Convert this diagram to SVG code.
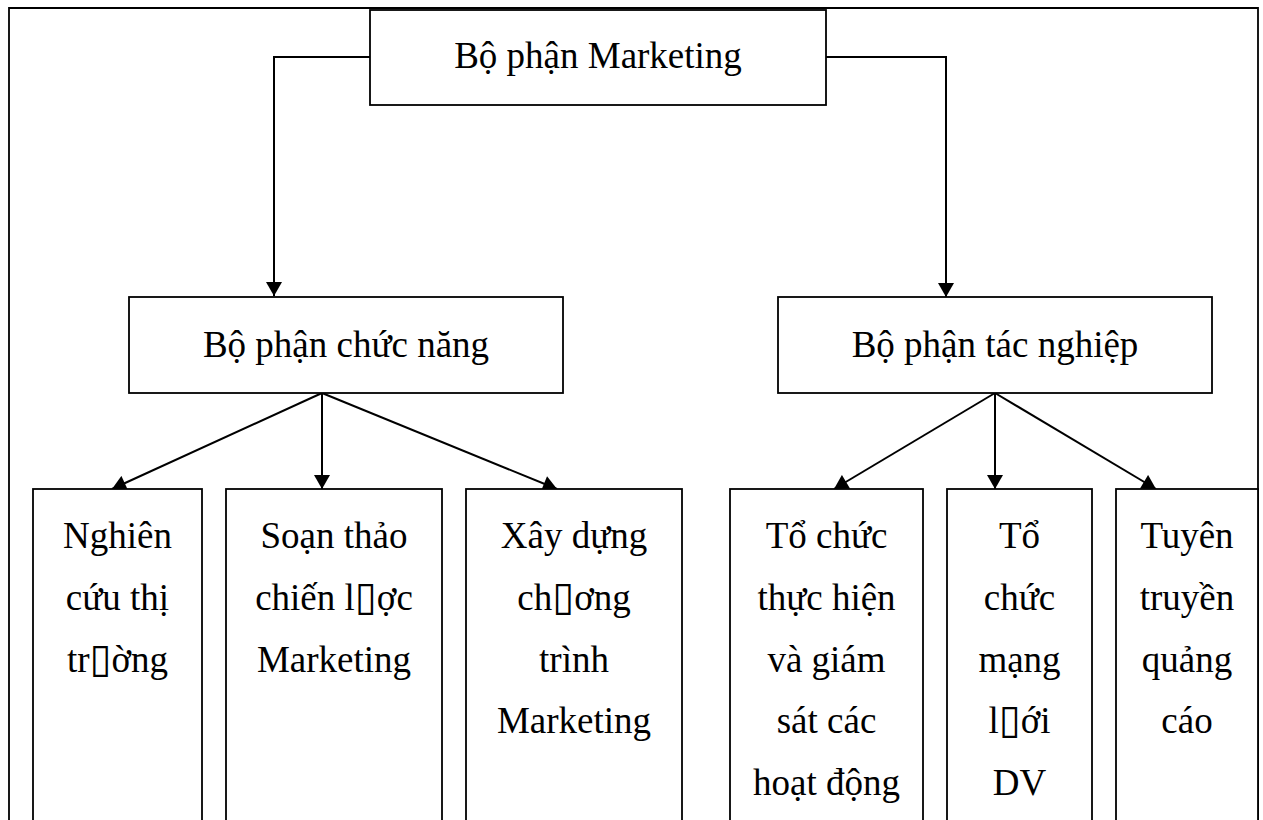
<svg xmlns="http://www.w3.org/2000/svg" width="1263" height="820" viewBox="0 0 1263 820">
  <style>
    .box { fill: #ffffff; stroke: #000000; stroke-width: 1.8; }
    .frame { fill: none; stroke: #000000; stroke-width: 1.8; }
    .link { fill: none; stroke: #000000; stroke-width: 2; }
    .lbl { font-family: "Liberation Serif", "Times New Roman", serif; font-size: 37px; fill: #000000; text-anchor: middle; }
    .tofu { font-family: "DejaVu Sans", sans-serif; font-size: 40px; }
  </style>
  <defs>
    <marker id="arrow" markerUnits="userSpaceOnUse" markerWidth="15" markerHeight="16" viewBox="0 0 14 16" refX="14" refY="8" orient="auto">
      <path d="M0,0 L14,8 L0,16 Z" fill="#000000"/>
    </marker>
  </defs>
  <rect width="1263" height="820" fill="#ffffff"/>

  <!-- outer frame (open at the bottom) -->
  <path class="frame" d="M9,830 V8 H1258 V830"/>

  <g id="connectors">
    <path class="link" d="M370,57 H274 V296" marker-end="url(#arrow)"/>
    <path class="link" d="M826,57 H946 V297" marker-end="url(#arrow)"/>
    <path class="link" d="M322,393 L112,489" marker-end="url(#arrow)"/>
    <path class="link" d="M322,393 V489" marker-end="url(#arrow)"/>
    <path class="link" d="M322,393 L557,489" marker-end="url(#arrow)"/>
    <path class="link" d="M995,393 L834,489" marker-end="url(#arrow)"/>
    <path class="link" d="M995,393 V489" marker-end="url(#arrow)"/>
    <path class="link" d="M995,393 L1156,489" marker-end="url(#arrow)"/>
  </g>

  <g id="marketing">
    <rect class="box" x="370" y="10" width="456" height="95"/>
    <text class="lbl" x="598" y="68">Bộ phận Marketing</text>
  </g>

  <g id="chuc-nang">
    <rect class="box" x="129" y="297" width="434" height="96"/>
    <text class="lbl" x="346" y="357">Bộ phận chức năng</text>
  </g>

  <g id="tac-nghiep">
    <rect class="box" x="778" y="297" width="434" height="96"/>
    <text class="lbl" x="995" y="357">Bộ phận tác nghiệp</text>
  </g>

  <g id="nghien-cuu">
    <rect class="box" x="33" y="489" width="169" height="345"/>
    <text class="lbl" x="117.5" y="548">Nghiên</text>
    <text class="lbl" x="117.5" y="610">cứu thị</text>
    <text class="lbl" x="117.5" y="672">tr<tspan class="tofu">▯</tspan>ờng</text>
  </g>

  <g id="soan-thao">
    <rect class="box" x="226" y="489" width="216" height="345"/>
    <text class="lbl" x="334" y="548">Soạn thảo</text>
    <text class="lbl" x="334" y="610">chiến l<tspan class="tofu">▯</tspan>ợc</text>
    <text class="lbl" x="334" y="672">Marketing</text>
  </g>

  <g id="xay-dung">
    <rect class="box" x="466" y="489" width="216" height="345"/>
    <text class="lbl" x="574" y="548">Xây dựng</text>
    <text class="lbl" x="574" y="610">ch<tspan class="tofu">▯</tspan>ơng</text>
    <text class="lbl" x="574" y="672">trình</text>
    <text class="lbl" x="574" y="733">Marketing</text>
  </g>

  <g id="to-chuc-thuc-hien">
    <rect class="box" x="730" y="489" width="193" height="345"/>
    <text class="lbl" x="826.5" y="548">Tổ chức</text>
    <text class="lbl" x="826.5" y="610">thực hiện</text>
    <text class="lbl" x="826.5" y="672">và giám</text>
    <text class="lbl" x="826.5" y="733">sát các</text>
    <text class="lbl" x="826.5" y="795">hoạt động</text>
  </g>

  <g id="mang-luoi">
    <rect class="box" x="947" y="489" width="145" height="345"/>
    <text class="lbl" x="1019.5" y="548">Tổ</text>
    <text class="lbl" x="1019.5" y="610">chức</text>
    <text class="lbl" x="1019.5" y="672">mạng</text>
    <text class="lbl" x="1019.5" y="733">l<tspan class="tofu">▯</tspan>ới</text>
    <text class="lbl" x="1019.5" y="795">DV</text>
  </g>

  <g id="quang-cao">
    <rect class="box" x="1116" y="489" width="142" height="345"/>
    <text class="lbl" x="1187" y="548">Tuyên</text>
    <text class="lbl" x="1187" y="610">truyền</text>
    <text class="lbl" x="1187" y="672">quảng</text>
    <text class="lbl" x="1187" y="733">cáo</text>
  </g>
</svg>
